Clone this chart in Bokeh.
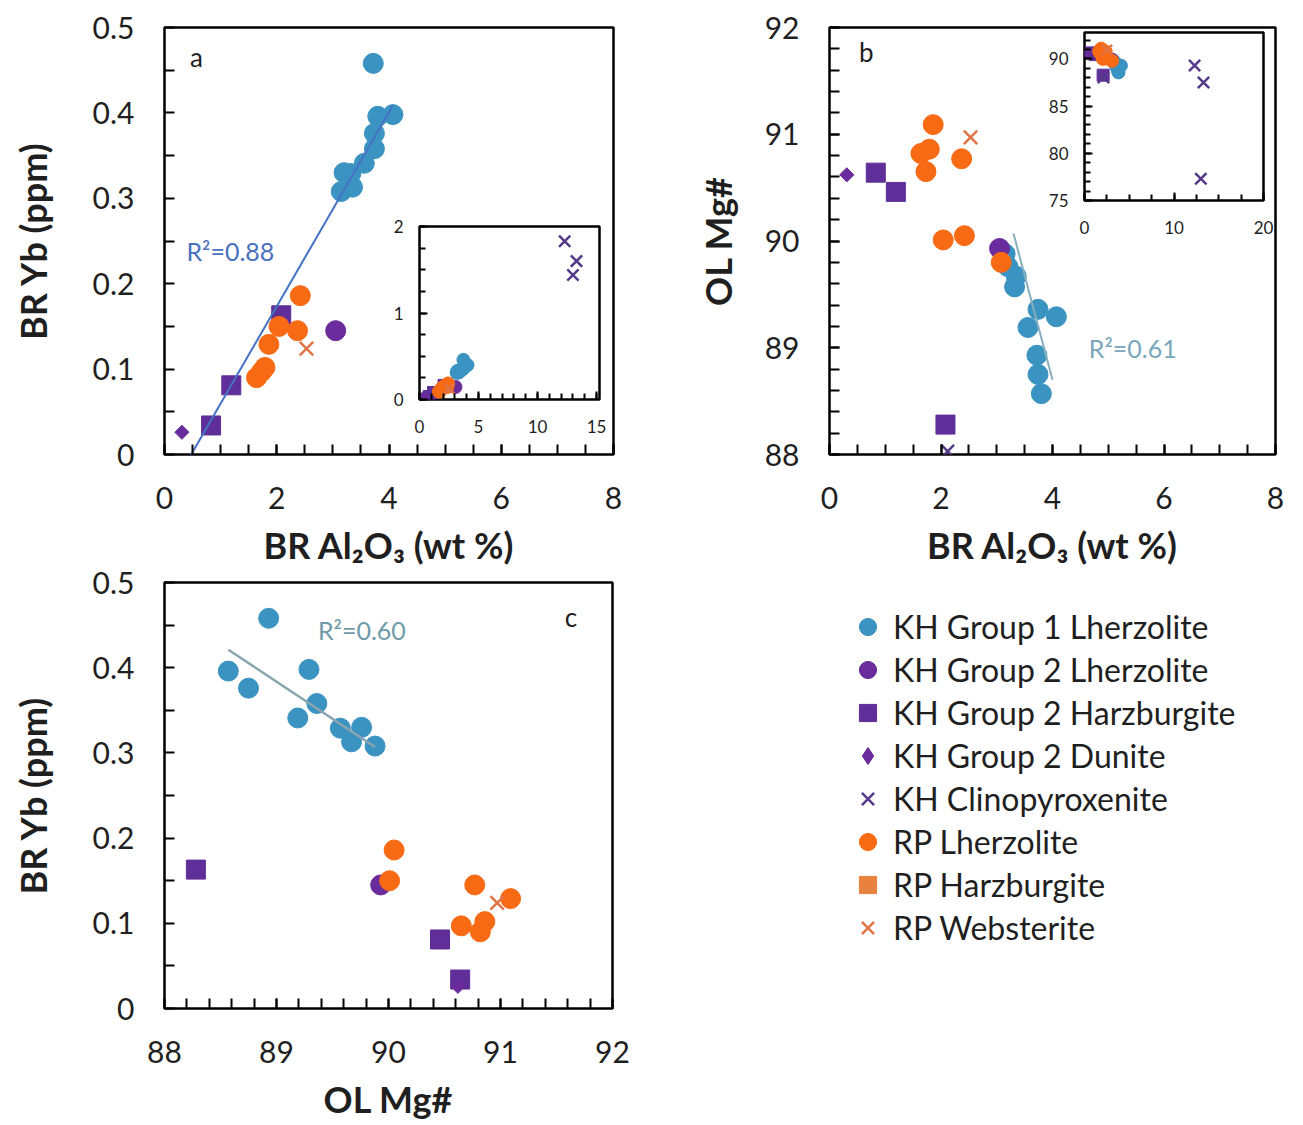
import math
from bokeh.plotting import figure
from bokeh.models import (GridBox, Range1d, FixedTicker, Legend, LegendItem,
                          ColumnDataSource, Label, CustomJSTickFormatter)
from bokeh.embed import file_html
from bokeh.resources import INLINE

nan = math.nan

# ---- sample data: bulk-rock Al2O3 (wt %), bulk-rock Yb (ppm), olivine Mg# ----
g1_al = [3.72, 3.80, 3.74, 4.07, 3.74, 3.56, 3.32, 3.20, 3.35, 3.15]
g1_yb = [0.458, 0.396, 0.376, 0.398, 0.358, 0.341, 0.329, 0.330, 0.313, 0.308]
g1_mg = [88.93, 88.57, 88.75, 89.29, 89.36, 89.19, 89.57, 89.76, 89.67, 89.88]

g2l_al = [3.05]
g2l_yb = [0.145]
g2l_mg = [89.93]

g2h_al = [0.83, 1.19, 2.08]
g2h_yb = [0.034, 0.081, 0.163]
g2h_mg = [90.64, 90.46, 88.28]

g2d_al = [0.31]
g2d_yb = [0.026]
g2d_mg = [90.62]

cpx_al = [12.3, 13.3, 13.0, 2.12]
cpx_yb = [1.83, 1.60, 1.44, nan]
cpx_mg = [89.3, 87.5, 77.3, 88.03]

rpl_al = [2.42, 2.04, 2.37, 1.86, 1.64, 1.73, 1.79, 3.08]
rpl_yb = [0.186, 0.150, 0.145, 0.129, 0.090, 0.097, 0.102, nan]
rpl_mg = [90.05, 90.01, 90.77, 91.09, 90.82, 90.65, 90.86, 89.80]

rph_al = []
rph_yb = []
rph_mg = []

rpw_al = [2.53]
rpw_yb = [0.124]
rpw_mg = [90.97]

# linear trends (KH Group 1)
trend_a_al = [0.30, 4.07]
trend_a_yb = [-0.020, 0.409]
trend_b_al = [3.30, 4.00]
trend_b_mg = [90.07, 88.70]
trend_c_mg = [88.57, 89.88]
trend_c_yb = [0.421, 0.307]

r2_a = "R\u00b2=0.88"
r2_b = "R\u00b2=0.61"
r2_c = "R\u00b2=0.60"

FONT = "Lato"
TXT = "#1f1f1f"
DIAMOND = math.pi / 4  # squares turned on their corner

groups = [
    # label, marker, key marker, colour, main size, inset size, angle, data
    ("KH Group 1 Lherzolite", "circle", "circle", "#3b93c2", 20, 13, 0, (g1_al, g1_yb, g1_mg)),
    ("KH Group 2 Lherzolite", "circle", "circle", "#6a2c9c", 20, 13, 0, (g2l_al, g2l_yb, g2l_mg)),
    ("KH Group 2 Harzburgite", "square", "square", "#5f2e98", 19, 12, 0, (g2h_al, g2h_yb, g2h_mg)),
    ("KH Group 2 Dunite", "square", "diamond", "#6a2c9c", 10, 8, DIAMOND, (g2d_al, g2d_yb, g2d_mg)),
    ("KH Clinopyroxenite", "x", "x", "#553a8a", 18, 16, 0, (cpx_al, cpx_yb, cpx_mg)),
    ("RP Lherzolite", "circle", "circle", "#f96a14", 20, 13, 0, (rpl_al, rpl_yb, rpl_mg)),
    ("RP Harzburgite", "square", "square", "#e9823e", 18, 12, 0, (rph_al, rph_yb, rph_mg)),
    ("RP Websterite", "x", "x", "#e07446", 19, 14, 0, (rpw_al, rpw_yb, rpw_mg)),
]
sources = [ColumnDataSource(dict(al=g[-1][0], yb=g[-1][1], mg=g[-1][2])) for g in groups]

strip_zero = CustomJSTickFormatter(code="return tick.toFixed(1).replace(/\\.0$/, '');")

# every figure shares the same borders; placement is done with margins
BL, BT, BR, BB = 164, 20, 20, 117


def base(xr, yr, fw, fh, frame_left, frame_top):
    p = figure(x_range=Range1d(*xr), y_range=Range1d(*yr),
               frame_width=fw, frame_height=fh,
               min_border_left=BL, min_border_top=BT,
               min_border_right=BR, min_border_bottom=BB,
               output_backend="svg", toolbar_location=None, tools="",
               margin=(frame_top - BT, 0, 0, frame_left - BL), align="start")
    p.border_fill_color = None
    p.background_fill_color = "white"
    p.outline_line_color = "black"
    p.grid.visible = False
    return p


def style_axes(p, tick_len, minor_len, font_size, lw, xstand, ystand):
    for ax in (p.xaxis[0], p.yaxis[0]):
        ax.axis_line_color = None
        ax.major_tick_in = tick_len
        ax.major_tick_out = 0
        ax.minor_tick_in = minor_len
        ax.minor_tick_out = 0
        ax.major_tick_line_width = lw
        ax.minor_tick_line_width = lw
        ax.major_tick_line_color = "black"
        ax.minor_tick_line_color = "black"
        ax.major_label_text_font = FONT
        ax.major_label_text_font_size = font_size
        ax.major_label_text_color = TXT
        ax.axis_label_text_font = FONT
        ax.axis_label_text_font_style = "bold"
        ax.axis_label_text_font_size = "36px"
        ax.axis_label_text_color = TXT
    p.xaxis.major_label_standoff = xstand
    p.yaxis.major_label_standoff = ystand


def main_panel(xr, yr, xticks, xminor, yticks, yminor, xlab, ylab, fw, fh, frame_left, frame_top, ylab_stand):
    p = base(xr, yr, fw, fh, frame_left, frame_top)
    p.outline_line_width = 2.5
    p.xaxis.ticker = FixedTicker(ticks=xticks, minor_ticks=xminor)
    p.yaxis.ticker = FixedTicker(ticks=yticks, minor_ticks=yminor)
    style_axes(p, 10, 10, "30px", 2, 32, 30)
    p.xaxis.axis_label = xlab
    p.yaxis.axis_label = ylab
    p.xaxis.axis_label_standoff = 11
    p.yaxis.axis_label_standoff = ylab_stand
    return p


def inset_panel(xr, yr, xticks, xminor, yticks, yminor, fw, fh, frame_left, frame_top):
    p = base(xr, yr, fw, fh, frame_left, frame_top)
    p.outline_line_width = 2.5
    p.xaxis.ticker = FixedTicker(ticks=xticks, minor_ticks=xminor)
    p.yaxis.ticker = FixedTicker(ticks=yticks, minor_ticks=yminor)
    style_axes(p, 8, 6, "17px", 2, 20, 16)
    return p


def add_points(p, xf, yf, srcs, inset=False, key=False):
    rends = []
    for (label, marker, key_marker, color, s_main, s_inset, angle, _), src in zip(groups, srcs):
        size = s_inset if inset else s_main
        m = key_marker if key else marker
        if m == "x":
            r = p.scatter(xf, yf, source=src, marker="x", size=size,
                          line_color=color, line_width=2.5)
        else:
            r = p.scatter(xf, yf, source=src, marker=m, size=size,
                          angle=0 if key else angle,
                          fill_color=color, line_color=color, line_width=1)
        rends.append(r)
    return rends


y_ticks = [0, 0.1, 0.2, 0.3, 0.4, 0.5]
y_minor = [0.05, 0.15, 0.25, 0.35, 0.45]
al_ticks = [0, 2, 4, 6, 8]
al_minor = [0.5 * i for i in range(17)]
mg_ticks = [88, 89, 90, 91, 92]
mg_minor = [88 + 0.2 * i for i in range(21)]

AL_LABEL = "BR Al\u2082O\u2083 (wt %)"
YB_LABEL = "BR Yb (ppm)"
MG_LABEL = "OL Mg#"

# ---- panel a: Yb vs Al2O3 ----
pa = main_panel((0, 8), (0, 0.5), al_ticks, al_minor, y_ticks, y_minor,
                AL_LABEL, YB_LABEL, 449, 427, 164, 27, 35)
pa.yaxis.formatter = strip_zero
add_points(pa, "al", "yb", sources)
pa.line(trend_a_al, trend_a_yb, line_color="#4472c4", line_width=2)
pa.add_layout(Label(x=0.39, y=0.238, text=r2_a, text_font=FONT, text_font_size="25px",
                    text_color="#4a70bd", text_baseline="middle"))
pa.add_layout(Label(x=0.57, y=0.466, text="a", text_font=FONT, text_font_size="26px",
                    text_color=TXT, text_baseline="middle", text_align="center"))

# ---- panel b: Mg# vs Al2O3 ----
pb = main_panel((0, 8), (88, 92), al_ticks, al_minor, mg_ticks, mg_minor,
                AL_LABEL, MG_LABEL, 446, 427, 829, 27, 22)
add_points(pb, "al", "mg", sources)
pb.line(trend_b_al, trend_b_mg, line_color="#86aebd", line_width=2)
pb.add_layout(Label(x=4.65, y=89.0, text=r2_b, text_font=FONT, text_font_size="25px",
                    text_color="#7aa6bb", text_baseline="middle"))
pb.add_layout(Label(x=0.66, y=91.77, text="b", text_font=FONT, text_font_size="26px",
                    text_color=TXT, text_baseline="middle", text_align="center"))

# ---- panel c: Yb vs Mg# ----
pc = main_panel((88, 92), (0, 0.5), mg_ticks, mg_minor, y_ticks, y_minor,
                MG_LABEL, YB_LABEL, 448, 426, 164, 582, 35)
pc.yaxis.formatter = strip_zero
add_points(pc, "mg", "yb", sources)
pc.line(trend_c_mg, trend_c_yb, line_color="#8aa5b0", line_width=2.5)
pc.add_layout(Label(x=89.37, y=0.444, text=r2_c, text_font=FONT, text_font_size="25px",
                    text_color="#6f9aa9", text_baseline="middle"))
pc.add_layout(Label(x=91.63, y=0.459, text="c", text_font=FONT, text_font_size="26px",
                    text_color=TXT, text_baseline="middle", text_align="center"))

# ---- inset in panel a: full Yb / Al2O3 range ----
ia = inset_panel((0, 15.25), (0, 2.0), [0, 5, 10, 15], list(range(16)),
                 [0, 1, 2], [0.25 * i for i in range(9)], 180, 173, 419, 226)
add_points(ia, "al", "yb", sources, inset=True)

# ---- inset in panel b: full Mg# / Al2O3 range ----
ib = inset_panel((0, 20), (75, 92.8), [0, 10, 20], [2.5 * i for i in range(9)],
                 [75, 80, 85, 90], list(range(75, 93)), 179, 168, 1084, 32)
add_points(ib, "al", "mg", sources, inset=True)

# ---- legend block (one blank row per group so the key glyphs render) ----
pl = base((0, 1), (0, 1), 395, 345, 845, 605)
pl.axis.visible = False
pl.outline_line_color = None
pl.background_fill_color = None
proxy = [ColumnDataSource(dict(al=[nan], yb=[nan], mg=[nan])) for _ in groups]
lr = add_points(pl, "al", "yb", proxy, key=True)
legend = Legend(items=[LegendItem(label=g[0], renderers=[r]) for g, r in zip(groups, lr)],
                location="top_left", orientation="vertical",
                glyph_width=45, glyph_height=43, label_height=43, label_standoff=3,
                spacing=0, padding=0, margin=0,
                label_text_font=FONT, label_text_font_size="32px", label_text_color=TXT,
                border_line_color=None, background_fill_alpha=0)
pl.add_layout(legend)

grid = GridBox(children=[(pa, 0, 0), (pb, 0, 0), (pc, 0, 0), (ia, 0, 0), (ib, 0, 0), (pl, 0, 0)])

open("out.html", "w").write(file_html(grid, INLINE))
